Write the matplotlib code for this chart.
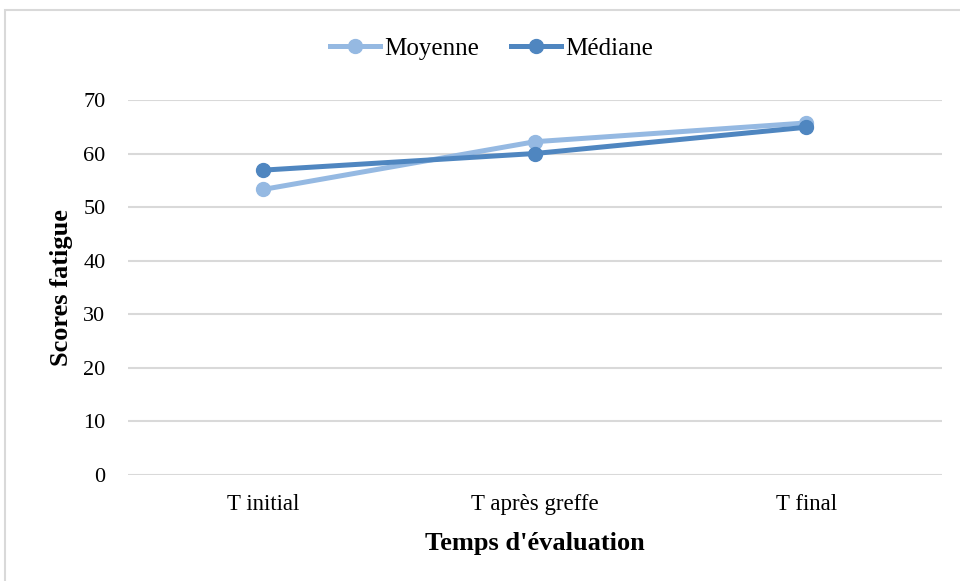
import matplotlib.pyplot as plt
from matplotlib.patches import Rectangle

plt.rcParams['font.family'] = ['Liberation Serif', 'DejaVu Serif']

categories = ['T initial', 'T après greffe', 'T final']
moyenne = [53.3, 62.2, 65.7]
mediane = [56.9, 60.0, 64.9]
yticks = [0, 10, 20, 30, 40, 50, 60, 70]

fig = plt.figure(figsize=(9.6, 5.81), dpi=100)
ax = fig.add_axes([0.133, 0.1824, 0.848, 0.6456])

x = range(len(categories))
ax.plot(x, moyenne, color='#95B9E2', lw=3.6, marker='o', ms=10, label='Moyenne', zorder=3)
ax.plot(x, mediane, color='#4F86C0', lw=3.6, marker='o', ms=10, label='Médiane', zorder=4)

ax.set_xlim(-0.5, 2.5)
ax.set_ylim(0, 70)
ax.set_yticks(yticks)
ax.set_xticks(list(x))
ax.set_xticklabels(categories, fontsize=16.5)
ax.tick_params(axis='y', labelsize=16, length=0, pad=16)
ax.tick_params(axis='x', length=0, pad=14)
ax.yaxis.grid(True, color='#D9D9D9', lw=1.5)
ax.set_axisbelow(True)
for s in ax.spines.values():
    s.set_visible(False)

ax.set_ylabel('Scores fatigue', fontsize=19, fontweight='bold', labelpad=7)
ax.set_xlabel("Temps d'évaluation", fontsize=19, fontweight='bold', labelpad=12)

ax.legend(loc='center', bbox_to_anchor=(0.447, 1.136), ncol=2, frameon=False,
          fontsize=18, handlelength=2.0, columnspacing=1.3, handletextpad=0.15)

fig.patches.append(Rectangle((0.0055, -0.1), 1.1, 1.083, transform=fig.transFigure,
                             fill=False, edgecolor='#D9D9D9', lw=1.5))

fig.savefig('out.png', dpi=100)
